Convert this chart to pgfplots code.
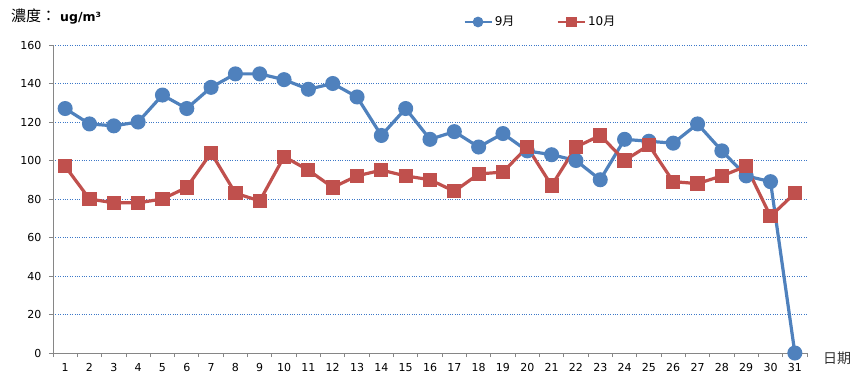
\documentclass[border=0pt]{standalone}
\usepackage{fontspec}
\setmainfont{DejaVu Sans}
\newfontfamily\cjk{Noto Sans CJK TC}
\usepackage{pgfplots}
\pgfplotsset{compat=1.18}
\definecolor{sblue}{HTML}{4F81BD}
\definecolor{sred}{HTML}{C0504D}
\definecolor{gridc}{HTML}{3C78C8}
\definecolor{axc}{HTML}{868686}
\begin{document}
\begin{tikzpicture}
\useasboundingbox (-53bp,-35bp) rectangle (810bp,353bp);
\begin{axis}[
 at={(0,0)}, anchor=south west,
 scale only axis, width=754bp, height=308bp,
 xmin=0.5, xmax=31.5, ymin=0, ymax=160,
 ytick={0,20,...,160},
 xtick={0.5,1.5,...,31.5},
 xticklabels={},
 extra x ticks={1,2,...,31},
 extra x tick style={tick style={draw=none}},
 axis x line*=bottom, axis y line*=left,
 axis line style={draw=axc, line width=0.9bp, -},
 tick style={draw=axc, line width=0.9bp},
 tick align=outside,
 major tick length=4bp,
 ymajorgrids,
 grid style={dotted, gridc, line width=0.7bp},
 /pgf/number format/assume math mode=true,
 ticklabel style={font=\fontsize{11bp}{13bp}\selectfont, text=black},
 xticklabel style={yshift=-3bp},
 yticklabel style={xshift=-4bp},
 clip=false,
 legend columns=2,
 legend style={at={(0.5438,1.0747)}, anchor=west, draw=none, fill=none, inner sep=0pt,
   font=\fontsize{12bp}{14bp}\selectfont,
   /tikz/every even column/.append style={column sep=40bp}},
 legend image code/.code={\draw[mark repeat=2,mark phase=2,#1,line width=2.6bp,mark size=4bp] plot coordinates {(0bp,0bp)(13.5bp,0bp)(27bp,0bp)};},
]
\addplot[sblue, line width=3.2bp, mark=*, mark size=5.9bp, mark options={solid, fill=sblue, draw=none}] coordinates {
(1,127)(2,119)(3,118)(4,120)(5,134)(6,127)(7,138)(8,145)(9,145)(10,142)
(11,137)(12,140)(13,133)(14,113)(15,127)(16,111)(17,115)(18,107)(19,114)(20,105)
(21,103)(22,100)(23,90)(24,111)(25,110)(26,109)(27,119)(28,105)(29,92)(30,89)(31,0)};
\addlegendentry{9{\cjk 月}}
\addplot[sred, line width=3.2bp, mark=square*, mark size=5.5bp, mark options={solid, fill=sred, draw=none}] coordinates {
(1,97)(2,80)(3,78)(4,78)(5,80)(6,86)(7,104)(8,83)(9,79)(10,102)
(11,95)(12,86)(13,92)(14,95)(15,92)(16,90)(17,84)(18,93)(19,94)(20,107)
(21,87)(22,107)(23,113)(24,100)(25,108)(26,89)(27,88)(28,92)(29,97)(30,71)(31,83)};
\addlegendentry{10{\cjk 月}}
\end{axis}
\node[anchor=west, inner sep=0pt] at (-42bp,336bp) {{\fontsize{15bp}{17bp}\selectfont\cjk 濃度：}\hspace{4bp}{\fontsize{12.5bp}{14bp}\selectfont\bfseries ug/m³}};
\node[anchor=west, inner sep=0pt, text=black!80] at (770bp,-5bp) {\fontsize{14bp}{16bp}\selectfont\cjk 日期};
\end{tikzpicture}
\end{document}
